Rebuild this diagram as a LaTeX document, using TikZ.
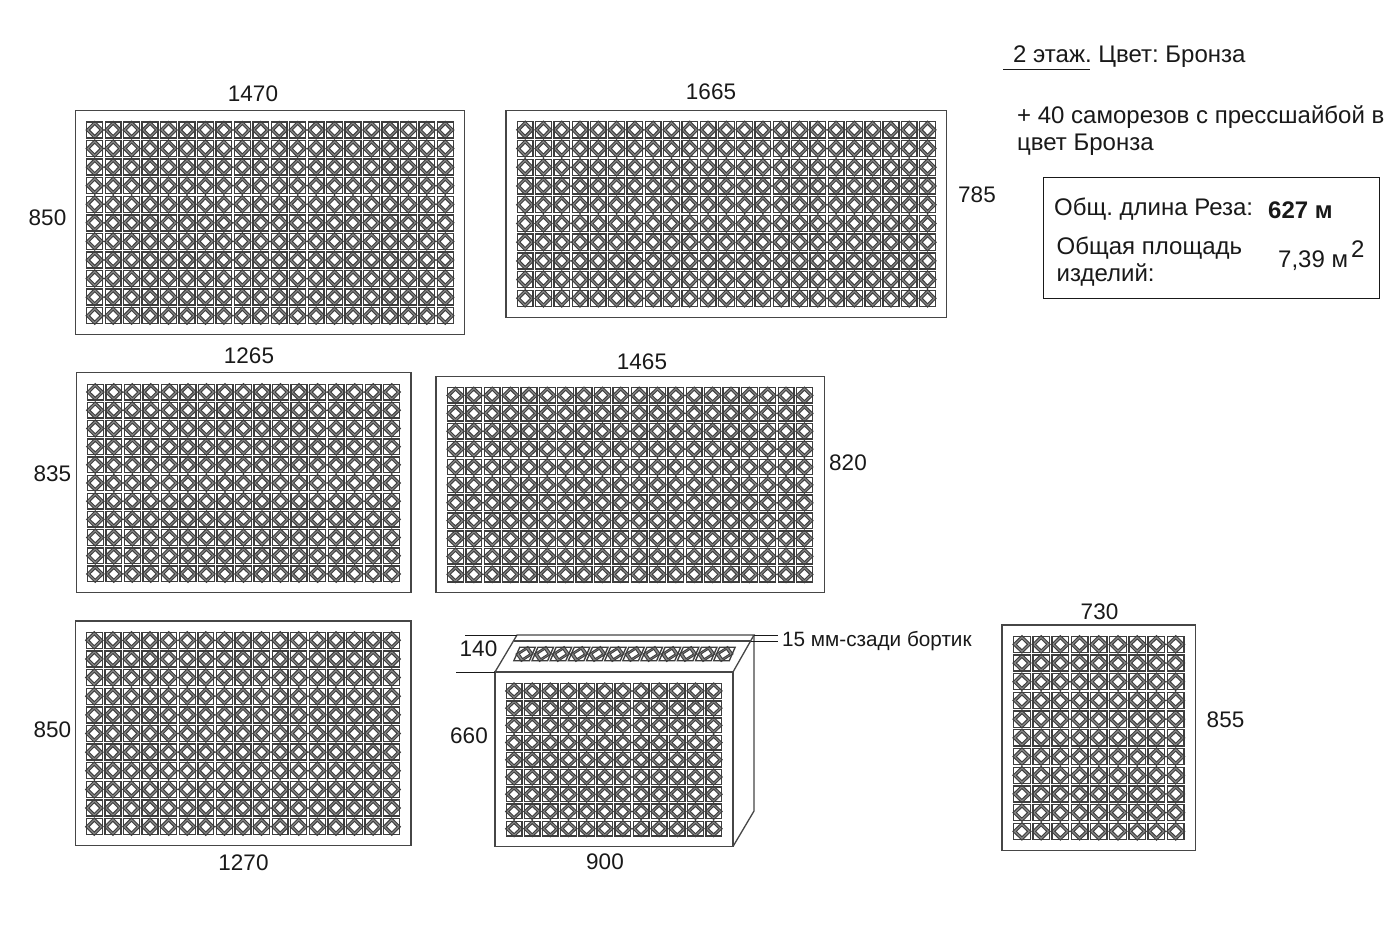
\documentclass[tikz,border=0pt]{standalone}
\usepackage{fontspec}
\setmainfont{Liberation Sans}
\frenchspacing
\definecolor{inkc}{RGB}{25,25,25}
\definecolor{framec}{RGB}{70,70,70}
\definecolor{cellc}{RGB}{62,62,62}
\definecolor{ringc}{RGB}{135,135,135}
\newcommand{\latticegrid}[6]{%
  \pgfmathsetmacro\cellw{(#3-#1)/#5}%
  \pgfmathsetmacro\cellh{(#4-#2)/#6}%
  \pgfmathsetmacro\ha{\cellw/2-1.3}%
  \pgfmathsetmacro\hb{\cellh/2-1.3}%
  \pgfmathsetmacro\oa{\cellw*0.47}%
  \pgfmathsetmacro\ob{\cellh*0.47}%
  \pgfmathsetmacro\ia{\cellw*0.29}%
  \pgfmathsetmacro\ib{\cellh*0.29}%
  \foreach \i in {1,...,#5}{%
    \foreach \j in {1,...,#6}{%
      \pgfmathsetmacro\cx{#1+(\i-0.5)*\cellw}%
      \pgfmathsetmacro\cy{#2+(\j-0.5)*\cellh}%
      \fill[ringc,even odd rule]
        (\cx-\oa,\cy) -- (\cx,\cy-\ob) -- (\cx+\oa,\cy) -- (\cx,\cy+\ob) -- cycle
        (\cx-\ia,\cy) -- (\cx,\cy-\ib) -- (\cx+\ia,\cy) -- (\cx,\cy+\ib) -- cycle;
      \draw[boxline] (\cx-\ha,\cy-\hb) rectangle (\cx+\ha,\cy+\hb);
      \draw[cellline]
        (\cx-\oa,\cy) -- (\cx,\cy-\ob) -- (\cx+\oa,\cy) -- (\cx,\cy+\ob) -- cycle
        (\cx-\ia,\cy) -- (\cx,\cy-\ib) -- (\cx+\ia,\cy) -- (\cx,\cy+\ib) -- cycle;
    }%
  }%
}
\tikzset{
  boxline/.style={draw=cellc,line width=1.35pt},
  cellline/.style={draw=cellc,line width=0.95pt,line join=miter},
  frameline/.style={draw=framec,line width=1.3pt},
  thinline/.style={draw=inkc,line width=1pt},
  dim/.style={inner sep=0pt,text=inkc,font=\fontsize{22.5}{26}\selectfont},
  txt/.style={inner sep=0pt,anchor=base west,text=inkc,font=\fontsize{24}{28}\selectfont},
}
\begin{document}
\begin{tikzpicture}[x=1pt,y=-1pt]
\useasboundingbox[fill=white] (0,0) rectangle (1398,933);

% flat panels
\draw[frameline] (75.5,110.5) rectangle (464.5,334.5);
\latticegrid{85.5}{120.7}{454.5}{325}{20}{11}
\draw[frameline] (506,110.5) rectangle (946.5,317.5);
\latticegrid{516}{120.5}{936.7}{307.7}{23}{10}
\draw[frameline] (76.5,372.5) rectangle (411,592.5);
\latticegrid{86}{383}{401}{583}{17}{11}
\draw[frameline] (436,376.5) rectangle (824.3,592.5);
\latticegrid{446.3}{386.5}{813.6}{583.3}{20}{11}
\draw[frameline] (75.5,621) rectangle (411,845.5);
\latticegrid{85}{631}{401}{836}{17}{11}
\draw[frameline] (1002,625) rectangle (1195.5,850.5);
\latticegrid{1012.3}{635}{1185.3}{840.7}{9}{11}

% box panel
\coordinate (fTL) at (495,672);
\coordinate (fBR) at (733,846.5);
\coordinate (fTR) at (733,672);
\coordinate (bTL) at (517,635);
\coordinate (bTR) at (754,635);
\coordinate (bBR) at (754,811);
\coordinate (lipL) at (514,641);
\coordinate (lipR) at (751,641);
\draw[frameline] (fTL) rectangle (fBR);
\draw[frameline,line join=miter] (fTL) -- (bTL) -- (bTR) -- (fTR);
\draw[frameline] (bTR) -- (bBR) -- (fBR);
\draw[frameline,line width=1.1pt] (lipL) -- (lipR);
\latticegrid{505}{682.3}{722.7}{837.3}{12}{9}
\begin{scope}[shift={(519,646)},xslant=0.4375]
\latticegrid{0}{0}{218}{16}{12}{1}
\end{scope}

% dimension ticks
\coordinate (t1) at (465,635);
\coordinate (t2) at (456,672);
\coordinate (t3) at (778,635);
\coordinate (t4) at (778,641);
\draw[thinline] (t1) -- (bTL);
\draw[thinline] (t2) -- (fTL);
\draw[thinline] (bTR) -- (t3);
\draw[thinline] (lipR) -- (t4);

% dimensions
\node[dim] (d1) at (253,94) {1470};
\node[dim] (d2) at (711,92) {1665};
\node[dim] (d3) at (47.5,218) {850};
\node[dim] (d4) at (977,195) {785};
\node[dim] (d5) at (249,356) {1265};
\node[dim] (d6) at (642,362) {1465};
\node[dim] (d7) at (52.5,474) {835};
\node[dim] (d8) at (848,463) {820};
\node[dim] (d9) at (52.5,730) {850};
\node[dim] (d10) at (243.5,863) {1270};
\node[dim] (d11) at (478.5,649) {140};
\node[dim] (d12) at (469,736) {660};
\node[dim] (d13) at (605,862) {900};
\node[dim] (d14) at (1099.5,612) {730};
\node[dim] (d15) at (1225.5,720) {855};
\node[txt,font=\fontsize{20.7}{24}\selectfont] (n1) at (782,646.5) {15 мм-сзади бортик};

% notes
\node[txt] (n2) at (1013,63) {2 этаж. Цвет: Бронза};
\coordinate (u1) at (1003,70);
\coordinate (u2) at (1090,70);
\draw[thinline] (u1) -- (u2);
\node[txt] (n3) at (1017,123.5) {+ 40 саморезов с прессшайбой в};
\node[txt] (n4) at (1017,151) {цвет Бронза};

% summary box
\draw[draw=inkc,line width=1pt] (1043.5,177.5) rectangle (1379.5,298.5);
\node[txt] (n5) at (1054,216) {Общ. длина Реза:};
\node[txt,font=\fontsize{24}{28}\selectfont\bfseries] (n6) at (1268,218.5) {627 м};
\node[txt] (n7) at (1056.5,255) {Общая площадь};
\node[txt] (n8) at (1056.5,282) {изделий:};
\node[txt] (n9) at (1278,267.5) {7,39 м};
\node[txt] (n10) at (1351,258) {2};
\end{tikzpicture}
\end{document}
